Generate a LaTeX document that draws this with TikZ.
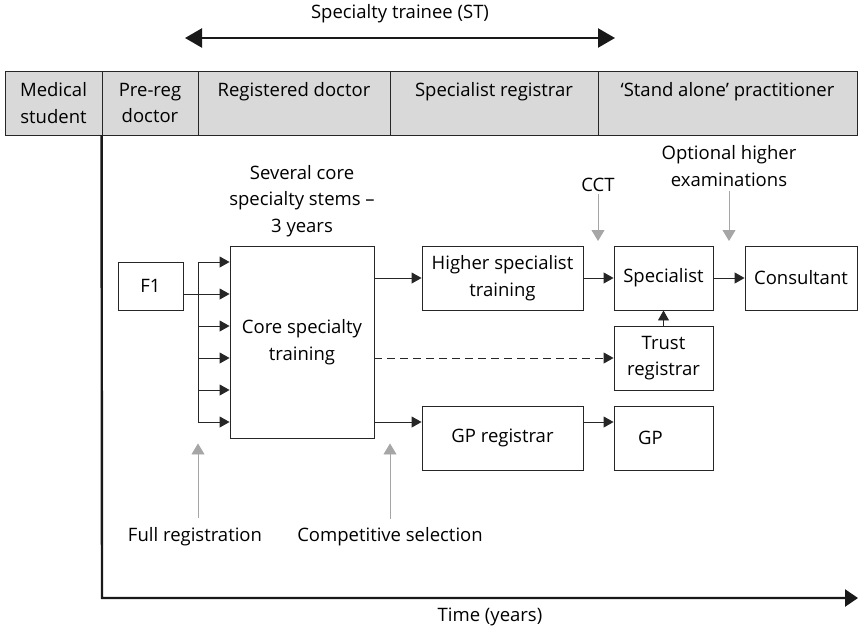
\documentclass[tikz,border=0pt]{standalone}
\usepackage{fontspec}
\setmainfont{Open Sans}
\usetikzlibrary{arrows.meta,positioning}

\begin{document}
\begin{tikzpicture}[x=1pt,y=-1pt,
		font=\fontsize{18.5}{26.5}\selectfont,
		every node/.style={inner sep=0pt},
		cell/.style={draw=black!85,fill=black!15,line width=0.9pt,minimum height=64pt,align=center},
		box/.style={draw=black!85,line width=0.9pt,minimum height=64pt,align=center},
		link/.style={draw=black!85,line width=0.9pt},
		blk/.style={link,-{Triangle[length=10pt,width=11pt]}},
		gry/.style={draw=black!35,line width=0.9pt,-{Triangle[length=11pt,width=13pt]}},
		axisline/.style={draw=black!90,line width=2.4pt,-{Triangle[length=13pt,width=17pt]}},
		bigarrow/.style={draw=black!90,line width=2.4pt,{Triangle[length=17pt,width=19pt]}-{Triangle[length=17pt,width=19pt]}}]
	\useasboundingbox (0,0) rectangle (858,627);
	\node[cell,minimum width=97pt] (med) at (53.5,103) {Medical\\student};
	\node[cell,minimum width=96pt] (prereg) at (150,103) {Pre-reg\\doctor};
	\node[cell,minimum width=192pt] (regdoc) at (294,103) {Registered doctor\\\mbox{}};
	\node[cell,minimum width=208pt] (specreg) at (494,103) {Specialist registrar\\\mbox{}};
	\node[cell,minimum width=259pt] (stand) at (727.5,103) {‘Stand alone’ practitioner\\\mbox{}};
	\node (st) at (400,14) {Specialty trainee (ST)};
	\coordinate (stl) at (185,38);
	\coordinate (str) at (615,38);
	\draw[bigarrow] (stl) -- (str);
	\node[box,minimum width=65pt,minimum height=48pt] (F1) at (150.5,286) {F1};
	\node[box,minimum width=144pt,minimum height=192pt] (core) at (302,342) {Core specialty\\training};
	\node[box,minimum width=161pt] (higher) at (502.5,278) {Higher specialist\\training};
	\node[box,minimum width=99pt] (spec) at (663.5,278) {Specialist};
	\node[box,minimum width=112pt] (cons) at (801,278) {Consultant};
	\node[box,minimum width=99pt] (trust) at (663.5,358) {Trust\\registrar};
	\node[box,minimum width=161pt] (gpreg) at (502.5,438) {GP registrar};
	\node[box,minimum width=99pt] (gp) at (663.5,438) {\hspace*{-26pt}GP};
	\node[align=center] (stems) at (302,201) {Several core\\specialty stems –\\3 years};
	\node (cct) at (598,185) {CCT};
	\node[align=center] (opt) at (729,166) {Optional higher\\examinations};
	\node (fullreg) at (195,537) {Full registration};
	\node (compsel) at (390,537) {Competitive selection};
	\node (time) at (490,617) {Time (years)};
	\foreach \y [count=\i] in {262,294,...,422}
		\coordinate (f\i) at (198,\y);
	\draw[link] (f1) -- (f6);
	\draw[link] (F1.east |- f2) -- (f2);
	\foreach \i in {1,...,6}
		\draw[blk] (f\i) -- (f\i -| core.west);
	\draw[blk] (core.east |- higher.west) -- (higher.west);
	\draw[blk] (higher) -- (spec);
	\draw[blk] (spec) -- (cons);
	\draw[blk] (trust) -- (spec);
	\draw[blk,dash pattern=on 8pt off 5pt] (core.east |- trust.west) -- (trust.west);
	\draw[blk] (f6 -| core.east) -- (f6 -| gpreg.west);
	\draw[blk] (f6 -| gpreg.east) -- (f6 -| gp.west);
	\coordinate (cctend) at (598,241);
	\coordinate (optend) at (729,241);
	\coordinate (frstart) at (198,518);
	\draw[gry] ([yshift=-2pt]cct.south) -- (cctend);
	\draw[gry] ([yshift=-4pt]opt.south) -- (optend);
	\draw[gry] (frstart) -- ([yshift=-5pt]frstart |- core.south);
	\draw[gry] ([yshift=9pt]compsel.north) -- ([yshift=-5pt]compsel.north |- core.south);
	\coordinate (origin) at (102,598);
	\coordinate (xend) at (858,598);
	\draw[axisline] (prereg.south west) -- (origin) -- (xend);
\end{tikzpicture}
\end{document}
